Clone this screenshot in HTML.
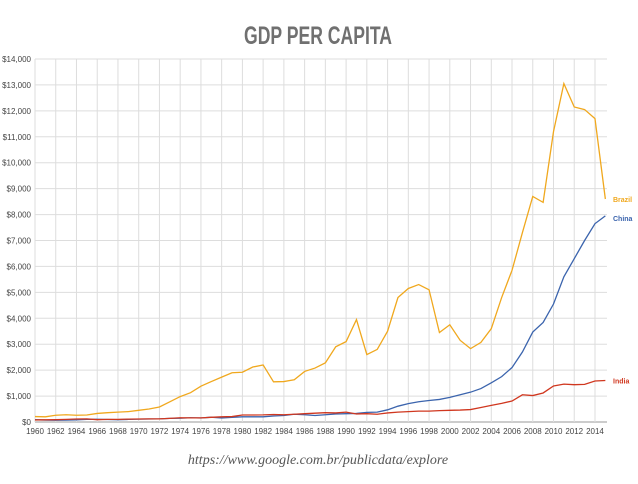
<!DOCTYPE html>
<html><head><meta charset="utf-8"><style>
body{margin:0;background:#fff;width:638px;height:479px;overflow:hidden;font-family:"Liberation Sans",sans-serif}
</style></head><body>
<svg width="638" height="479">
<text x="318" y="44" text-anchor="middle" textLength="148" lengthAdjust="spacingAndGlyphs" font-family="'Liberation Sans',sans-serif" font-weight="bold" font-size="25" fill="#707070">GDP PER CAPITA</text>
<g id="grid"></g><g id="series"></g><g id="labels"></g>
<text x="318" y="464" text-anchor="middle" font-family="'Liberation Serif',serif" font-style="italic" font-size="14" fill="#555">https://www.google.com.br/publicdata/explore</text>
</svg>
<script>
const years=[];for(let y=1960;y<=2015;y++)years.push(y);
const brazil=[210,200,260,280,260,270,330,360,380,400,450,500,580,780,980,1130,1380,1560,1730,1900,1920,2120,2200,1550,1560,1630,1950,2080,2280,2900,3100,3950,2600,2800,3500,4800,5150,5300,5100,3450,3750,3150,2830,3070,3600,4800,5850,7300,8700,8470,11200,13050,12150,12050,11700,8600];
const china=[90,75,70,75,85,100,105,95,90,100,110,115,120,140,145,165,155,185,155,180,200,200,200,230,250,300,280,250,280,310,320,330,370,380,470,610,710,780,830,870,950,1050,1150,1290,1510,1750,2100,2700,3470,3840,4550,5600,6300,7000,7650,7950];
const india=[80,85,90,100,115,120,90,100,100,110,115,120,120,140,165,160,160,180,200,210,270,270,275,290,280,300,320,340,360,350,380,310,320,300,350,380,400,420,420,440,450,460,480,560,640,720,810,1050,1020,1120,1390,1460,1440,1450,1580,1600];
const yTicks=[0,1000,2000,3000,4000,5000,6000,7000,8000,9000,10000,11000,12000,13000,14000];
const NS="http://www.w3.org/2000/svg";
const X=y=>35+(y-1960)*10.37, Y=v=>422-v*(363/14000);
function mk(t,a,p){const e=document.createElementNS(NS,t);for(const k in a)e.setAttribute(k,a[k]);p.appendChild(e);return e;}
const g=document.getElementById('grid'),s=document.getElementById('series'),lb=document.getElementById('labels');
yTicks.forEach(v=>{
 const l=mk('line',{x1:35,x2:607,y1:Y(v),y2:Y(v),stroke:v==0?'#999':'#ddd','stroke-width':1},g);
 
 
 const t=mk('text',{x:31,y:Y(v)+3,'text-anchor':'end','font-size':8,fill:'#444'},g);
 t.textContent='$'+v.toLocaleString('en-US');
 
 
});
for(let y=1960;y<=2014;y+=2){
 const l=mk('line',{x1:X(y),x2:X(y),y1:Y(14000),y2:422,stroke:'#ddd','stroke-width':1},g);
 
 
 const t=mk('text',{x:X(y),y:434,'text-anchor':'middle','font-size':8,fill:'#444'},g);
 t.textContent=y;
 
 
}
[[brazil,'#f0a81e','Brazil','brazil-line'],[china,'#3b64ad','China','china-line'],[india,'#d0371f','India','india-line']].forEach(([d,c,n,nm],i)=>{
 const p=mk('polyline',{points:d.map((v,j)=>X(years[j])+','+Y(v)).join(' '),fill:'none',stroke:c,'stroke-width':1.3},s);
 
 
 const ly=[Y(d[d.length-1]),Y(d[d.length-1])+2,Y(d[d.length-1])][i];
 const t=mk('text',{x:613,y:ly+3,'font-size':7,'font-weight':'bold',fill:c},lb);
 t.textContent=n;
 
 
});
</script>
</body></html>
